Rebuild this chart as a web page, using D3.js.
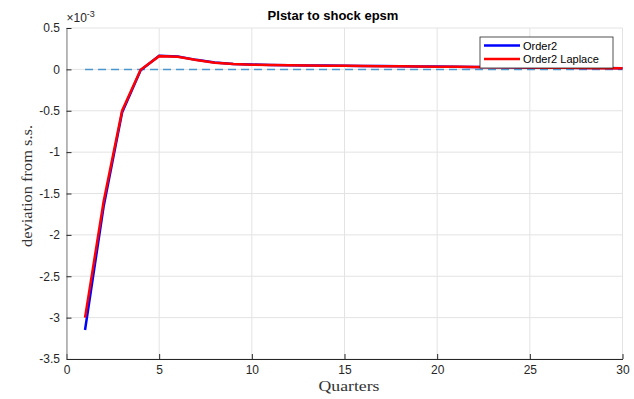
<!DOCTYPE html>
<html>
<head>
<meta charset="utf-8">
<script src="https://cdn.jsdelivr.net/npm/d3@7/dist/d3.min.js"></script>
<style>
  body { margin: 0; background: #fff; }
  svg { display: block; }
</style>
</head>
<body>
<div id="chart"></div>
<script>
// values in units of 1e-3
const quarters = d3.range(1, 31);
const order2 = [-3.15, -1.66, -0.52, -0.01, 0.165, 0.155, 0.115, 0.082, 0.066, 0.058,
  0.054, 0.051, 0.048, 0.046, 0.044, 0.042, 0.040, 0.038, 0.036, 0.034,
  0.032, 0.030, 0.028, 0.026, 0.024, 0.022, 0.020, 0.018, 0.016, 0.014];
const order2Laplace = [-3.0, -1.6, -0.5, -0.005, 0.16, 0.152, 0.113, 0.08, 0.065, 0.057,
  0.053, 0.050, 0.047, 0.045, 0.043, 0.041, 0.039, 0.037, 0.035, 0.033,
  0.031, 0.029, 0.027, 0.025, 0.023, 0.021, 0.019, 0.017, 0.015, 0.013];
const xTicks = [0, 5, 10, 15, 20, 25, 30];
const yTicks = [0.5, 0, -0.5, -1, -1.5, -2, -2.5, -3, -3.5];

const width = 634, height = 399;
const margin = { left: 66.5, right: 11.5, top: 28, bottom: 40 };

const svg = d3.select("#chart").append("svg")
  .attr("width", width)
  .attr("height", height);

const x = d3.scaleLinear().domain([0, 30]).range([margin.left, width - margin.right]);
const y = d3.scaleLinear().domain([-3.5, 0.5]).range([height - margin.bottom, margin.top]);

const font = "Liberation Sans, Arial, sans-serif";
const serif = "Liberation Serif, Times New Roman, serif";

// grid
svg.append("g").selectAll("line").data(xTicks).enter().append("line")
  .attr("x1", d => x(d)).attr("x2", d => x(d))
  .attr("y1", y(-3.5)).attr("y2", y(0.5))
  .attr("stroke", "#e3e3e3").attr("stroke-width", 1);
svg.append("g").selectAll("line").data(yTicks).enter().append("line")
  .attr("x1", x(0)).attr("x2", x(30))
  .attr("y1", d => y(d)).attr("y2", d => y(d))
  .attr("stroke", "#e3e3e3").attr("stroke-width", 1);

// axes
const xAxis = svg.append("g")
  .attr("transform", "translate(0," + y(-3.5) + ")")
  .call(d3.axisBottom(x).tickValues(xTicks).tickSizeInner(-5).tickSizeOuter(0).tickPadding(6));
const yAxis = svg.append("g")
  .attr("transform", "translate(" + x(0) + ",0)")
  .call(d3.axisLeft(y).tickValues(yTicks).tickSizeInner(-5).tickSizeOuter(0).tickPadding(6.5)
    .tickFormat(d => String(d)));
[xAxis, yAxis].forEach(a => {
  a.select(".domain").attr("stroke", "#262626");
  a.selectAll(".tick line").attr("stroke", "#262626");
  a.selectAll(".tick text").attr("fill", "#262626")
    .style("font-family", font).style("font-size", "12px");
});
yAxis.select(".domain").attr("stroke", "#808080");

// zero reference
svg.append("line")
  .attr("x1", x(1)).attr("x2", x(30))
  .attr("y1", y(0)).attr("y2", y(0))
  .attr("stroke", "#4a97d0").attr("stroke-width", 1.5)
  .attr("stroke-dasharray", "8,5");

const line = d3.line().x((d, i) => x(quarters[i])).y(d => y(d));
svg.append("path").datum(order2)
  .attr("d", line).attr("fill", "none")
  .attr("stroke", "#0000ff").attr("stroke-width", 2.5);
svg.append("path").datum(order2Laplace)
  .attr("d", line).attr("fill", "none")
  .attr("stroke", "#ff0000").attr("stroke-width", 2.5);

// title and labels
svg.append("text").attr("x", 333).attr("y", 20)
  .attr("text-anchor", "middle").style("font-family", font)
  .style("font-size", "13px").style("font-weight", "bold")
  .text("PIstar to shock epsm");
svg.append("text").attr("x", 349).attr("y", 391)
  .attr("text-anchor", "middle").style("font-family", serif)
  .style("font-size", "14px").attr("fill", "#333")
  .attr("textLength", 61).attr("lengthAdjust", "spacingAndGlyphs")
  .text("Quarters");
svg.append("text")
  .attr("transform", "translate(32,186) rotate(-90)")
  .attr("text-anchor", "middle").style("font-family", serif)
  .style("font-size", "14px").attr("fill", "#333")
  .attr("textLength", 122).attr("lengthAdjust", "spacingAndGlyphs")
  .text("deviation from s.s.");

const exp = svg.append("text").attr("x", x(0)).attr("y", 22)
  .style("font-family", font).style("font-size", "12px").attr("fill", "#262626");
exp.append("tspan").text("\u00d710");
exp.append("tspan").attr("dy", -5).style("font-size", "9px").text("-3");

// legend
const lg = svg.append("g").attr("transform", "translate(480,37)");
lg.append("rect").attr("width", 133).attr("height", 31)
  .attr("fill", "#fff").attr("stroke", "#262626").attr("stroke-width", 0.8);
const entries = [["Order2", "#0000ff"], ["Order2 Laplace", "#ff0000"]];
entries.forEach((e, i) => {
  const yy = 8.5 + i * 13.5;
  lg.append("line").attr("x1", 4).attr("x2", 40).attr("y1", yy).attr("y2", yy)
    .attr("stroke", e[1]).attr("stroke-width", 2.5);
  lg.append("text").attr("x", 43).attr("y", yy + 4)
    .style("font-family", font).style("font-size", "11px").attr("fill", "#000")
    .text(e[0]);
});
</script>
</body>
</html>
